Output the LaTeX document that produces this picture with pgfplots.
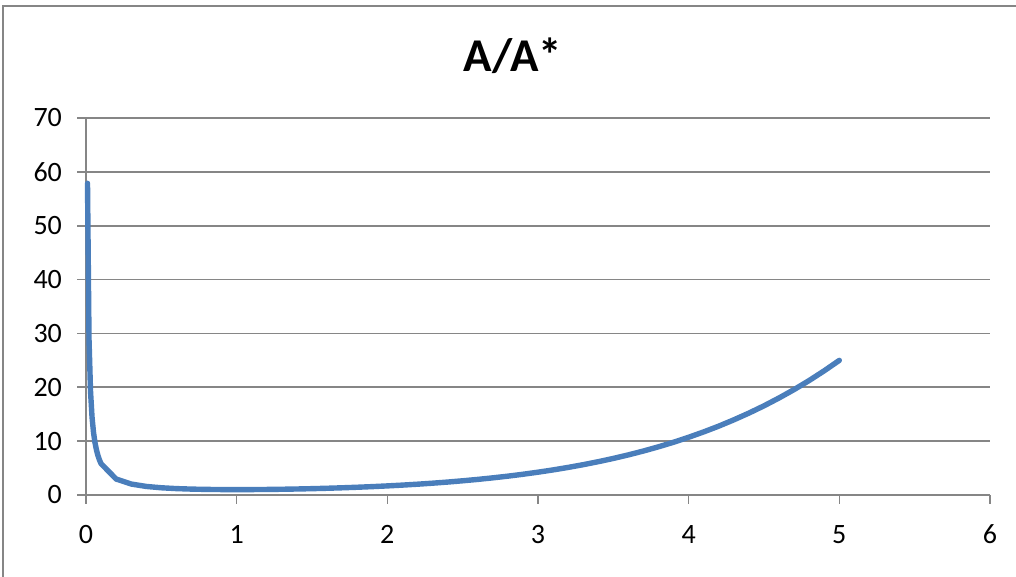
\documentclass[border=0pt]{standalone}
\usepackage{pgfplots}
\pgfplotsset{compat=1.18}
\usepackage{fontspec}
\setmainfont{Carlito}
\definecolor{linecol}{RGB}{74,126,187}
\definecolor{gridcol}{RGB}{134,134,134}
\definecolor{framecol}{RGB}{134,134,134}
\begin{document}
\begin{tikzpicture}[x=0.5pt,y=0.5pt]
\useasboundingbox (0,0) rectangle (1016,577);
\draw[framecol,line width=1pt] (3,-20) rectangle (1040,571);
\node[font=\fontsize{23.5}{26}\selectfont\bfseries] at (513,521) {A/A*};
\begin{axis}[
  at={(86pt*0.5,82pt*0.5)}, anchor=origin,
  scale only axis,
  width=452pt, height=188.5pt,
  xmin=0, xmax=6, ymin=0, ymax=70,
  xtick={0,1,...,6}, ytick={0,10,...,70},
  axis lines=left, axis line style={-, gridcol, line width=0.8pt},
  ymajorgrids, grid style={gridcol, line width=0.8pt},
  tick align=outside, major tick length=4.5pt,
  tick style={gridcol, line width=0.8pt},
  ticklabel style={font=\fontsize{14}{16}\selectfont},
  /pgf/number format/assume math mode=true,
  xticklabel style={yshift=-7pt},
  yticklabel style={xshift=-4pt},
  clip=false]
\addplot[linecol, line width=2.7pt, line join=round, line cap=round] coordinates {
(0.01,57.87) (0.02,28.94) (0.03,19.30) (0.04,14.48) (0.05,11.59)
(0.06,9.666) (0.07,8.291) (0.08,7.262) (0.09,6.461) (0.1,5.822)
(0.2,2.964) (0.3,2.035) (0.4,1.590) (0.5,1.340) (0.6,1.188)
(0.7,1.094) (0.8,1.038) (0.9,1.009) (1.0,1.000) (1.1,1.008)
(1.2,1.030) (1.3,1.066) (1.4,1.115) (1.5,1.176) (1.6,1.250)
(1.7,1.338) (1.8,1.439) (1.9,1.555) (2.0,1.688) (2.1,1.837)
(2.2,2.005) (2.3,2.193) (2.4,2.403) (2.5,2.637) (2.6,2.896)
(2.7,3.183) (2.8,3.500) (2.9,3.850) (3.0,4.235) (3.1,4.657)
(3.2,5.121) (3.3,5.629) (3.4,6.184) (3.5,6.790) (3.6,7.450)
(3.7,8.169) (3.8,8.951) (3.9,9.799) (4.0,10.72) (4.1,11.72)
(4.2,12.79) (4.3,13.96) (4.4,15.21) (4.5,16.56) (4.6,18.02)
(4.7,19.58) (4.8,21.26) (4.9,23.07) (5.0,25.00)
};
\end{axis}
\end{tikzpicture}
\end{document}
